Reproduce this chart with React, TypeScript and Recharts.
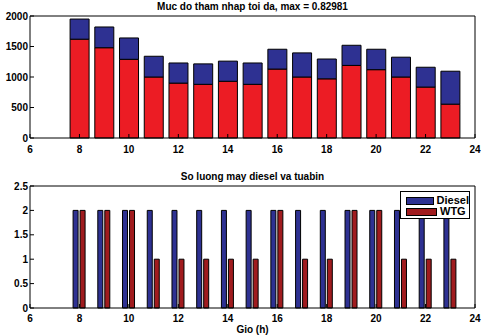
import { BarChart, Bar, XAxis, YAxis, Legend } from 'recharts'

const HOURS = [8, 9, 10, 11, 12, 13, 14, 15, 16, 17, 18, 19, 20, 21, 22, 23]

// top panel: red lower part, blue upper part of each stacked bar
const RED_PART = [1620, 1480, 1290, 1000, 900, 880, 930, 880, 1130, 1000, 970, 1190, 1120, 1000, 835, 555]
const BLUE_PART = [330, 340, 350, 340, 330, 335, 330, 350, 325, 395, 325, 330, 335, 325, 325, 540]

// bottom panel: number of units
const DIESEL_COUNT = [2, 2, 2, 2, 2, 2, 2, 2, 2, 2, 2, 2, 2, 2, 2, 2]
const WTG_COUNT = [2, 2, 2, 1, 1, 1, 1, 1, 2, 1, 1, 2, 2, 1, 1, 1]

const X_TICKS = [6, 8, 10, 12, 14, 16, 18, 20, 22, 24]
const Y_TICKS_TOP = [0, 500, 1000, 1500, 2000]
const Y_TICKS_BOTTOM = [0, 0.5, 1, 1.5, 2, 2.5]

const TOP_TITLE = 'Muc do tham nhap toi da, max = 0.82981'
const BOTTOM_TITLE = 'So luong may diesel va tuabin'
const X_LABEL = 'Gio (h)'

const BLUE = '#2e3192'
const RED = '#ec1c24'
const DARK_RED = '#a01b1e'

const FONT = 'Arial, "Liberation Sans", sans-serif'
const AXIS_LINE = { stroke: '#000', strokeWidth: 1 }
const TITLE_STYLE = { fill: '#000', fontSize: 10, fontWeight: 700, fontFamily: FONT }

const topData = HOURS.map((h, i) => ({ hour: h, red: RED_PART[i], blue: BLUE_PART[i] }))
const bottomData = HOURS.map((h, i) => ({ hour: h, diesel: DIESEL_COUNT[i], wtg: WTG_COUNT[i] }))

function XTick(props: any) {
  return (
    <text x={props.x} y={props.y} dy="0.71em" textAnchor="middle" fill="#000" fontSize={10} fontWeight={700} fontFamily={FONT}>
      {props.payload.value}
    </text>
  )
}

function YTick(props: any) {
  return (
    <text x={props.x} y={props.y} dy="0.355em" textAnchor="end" fill="#000" fontSize={10} fontWeight={700} fontFamily={FONT}>
      {props.payload.value}
    </text>
  )
}

function LegendBox(props: any) {
  const items = props.payload ?? []
  return (
    <div
      style={{
        border: '1px solid #000',
        background: '#fff',
        width: 70,
        height: 28,
        padding: '3px 0 0 5px',
        boxSizing: 'border-box',
        fontFamily: FONT,
        fontSize: 11,
        fontWeight: 'bold',
        lineHeight: '11px',
      }}
    >
      {items.map((it: any) => (
        <div key={it.value} style={{ display: 'flex', alignItems: 'center', height: 11 }}>
          <span
            style={{
              display: 'inline-block',
              width: 29,
              height: 6,
              background: it.color,
              border: '1px solid #000',
              marginRight: 3,
            }}
          />
          <span>{it.value}</span>
        </div>
      ))}
    </div>
  )
}

export default function App() {
  return (
    <div style={{ position: 'absolute', left: 0, top: 0, width: 485, height: 336, background: '#fff' }}>
      <BarChart
        width={485}
        height={160}
        data={topData}
        margin={{ top: 15, right: 9, left: 0, bottom: 0 }}
        style={{ fontFamily: FONT }}
      >
        <XAxis
          dataKey="hour"
          type="number"
          domain={[6, 24]}
          ticks={X_TICKS}
          height={22}
          tick={XTick}
          tickSize={-4}
          tickMargin={12}
          axisLine={AXIS_LINE}
          tickLine={AXIS_LINE}
        />
        <XAxis
          xAxisId="top"
          orientation="top"
          type="number"
          domain={[6, 24]}
          ticks={X_TICKS}
          height={1}
          tick={false}
          tickSize={-4}
          axisLine={AXIS_LINE}
          tickLine={AXIS_LINE}
          label={{ value: TOP_TITLE, position: 'top', offset: 5, ...TITLE_STYLE }}
        />
        <YAxis
          domain={[0, 2000]}
          ticks={Y_TICKS_TOP}
          width={30}
          tick={YTick}
          tickSize={-4}
          tickMargin={6}
          axisLine={AXIS_LINE}
          tickLine={AXIS_LINE}
        />
        <YAxis
          yAxisId="r"
          orientation="right"
          domain={[0, 2000]}
          ticks={Y_TICKS_TOP}
          width={1}
          tick={false}
          tickSize={-4}
          axisLine={AXIS_LINE}
          tickLine={AXIS_LINE}
        />
        <Bar dataKey="red" stackId="a" fill={RED} stroke="#000" strokeWidth={1} barSize={19} isAnimationActive={false} />
        <Bar dataKey="blue" stackId="a" fill={BLUE} stroke="#000" strokeWidth={1} barSize={19} isAnimationActive={false} />
      </BarChart>
      <div style={{ position: 'absolute', left: 0, top: 160 }}>
        <BarChart
          width={485}
          height={176}
          data={bottomData}
          margin={{ top: 25, right: 9, left: 0, bottom: 0 }}
          barGap={2}
          style={{ fontFamily: FONT }}
        >
          <XAxis
            dataKey="hour"
            type="number"
            domain={[6, 24]}
            ticks={X_TICKS}
            height={28}
            tick={XTick}
            tickSize={-4}
            tickMargin={11}
            axisLine={AXIS_LINE}
            tickLine={AXIS_LINE}
            label={{ value: X_LABEL, position: 'insideBottom', offset: 3, ...TITLE_STYLE }}
          />
          <XAxis
            xAxisId="top"
            orientation="top"
            type="number"
            domain={[6, 24]}
            ticks={X_TICKS}
            height={1}
            tick={false}
            tickSize={-4}
            axisLine={AXIS_LINE}
            tickLine={AXIS_LINE}
            label={{ value: BOTTOM_TITLE, position: 'top', offset: 5, ...TITLE_STYLE }}
          />
          <YAxis
            domain={[0, 2.5]}
            ticks={Y_TICKS_BOTTOM}
            width={30}
            tick={YTick}
            tickSize={-4}
            tickMargin={6}
            axisLine={AXIS_LINE}
            tickLine={AXIS_LINE}
          />
          <YAxis
            yAxisId="r"
            orientation="right"
            domain={[0, 2.5]}
            ticks={Y_TICKS_BOTTOM}
            width={1}
            tick={false}
            tickSize={-4}
            axisLine={AXIS_LINE}
            tickLine={AXIS_LINE}
          />
          <Bar dataKey="diesel" name="Diesel" fill={BLUE} stroke="#000" strokeWidth={1} barSize={5} isAnimationActive={false} />
          <Bar dataKey="wtg" name="WTG" fill={DARK_RED} stroke="#000" strokeWidth={1} barSize={5} isAnimationActive={false} />
          <Legend
            layout="horizontal"
            verticalAlign="middle"
            align="center"
            wrapperStyle={{ left: 400, top: 31, width: 70 }}
            content={LegendBox}
          />
        </BarChart>
      </div>
    </div>
  )
}
